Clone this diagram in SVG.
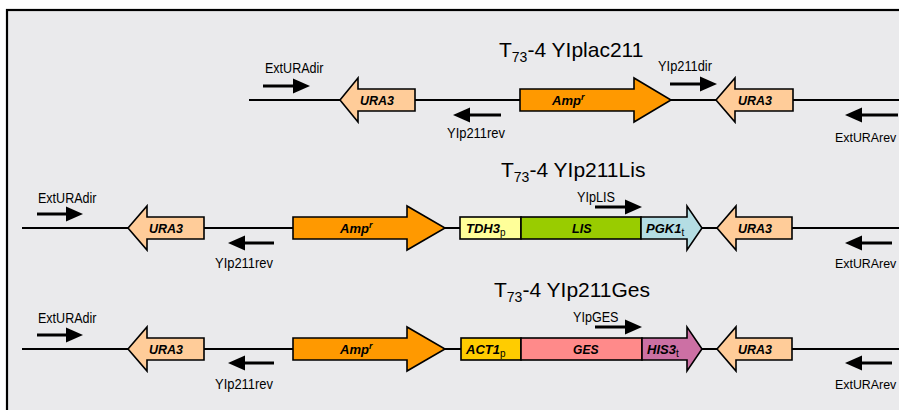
<svg xmlns="http://www.w3.org/2000/svg" width="899" height="410" viewBox="0 0 899 410">
<defs>
<style>
.bg{fill:#eaeaec;stroke:#000;stroke-width:2.2}
.bb{stroke:#000;stroke-width:2;fill:none}
.gene{stroke:#000;stroke-width:1.6;stroke-linejoin:miter}
.ura{fill:#ffcc99}
.amp{fill:#ff9900}
.tdh{fill:#ffff99}
.lis{fill:#99cc00}
.pgk{fill:#b4dde3}
.act{fill:#ffcc00}
.ges{fill:#ff8a8a}
.his{fill:#cc70a4}
.gl{font-family:"Liberation Sans",Arial,sans-serif;font-size:13.5px;font-weight:bold;font-style:italic;fill:#000}
.gm{font-family:"Liberation Sans",Arial,sans-serif;font-size:13px;font-weight:bold;font-style:italic;fill:#000}
.sub{font-weight:normal;font-style:normal;font-size:10px}
.pl{font-family:"Liberation Sans",Arial,sans-serif;font-size:14px;fill:#000}
.pr{font-family:"Liberation Sans",Arial,sans-serif;font-size:12.4px;fill:#000}
.title{font-family:"Liberation Sans",Arial,sans-serif;font-size:21px;fill:#000}
.pline{stroke:#000;stroke-width:3;fill:none}
</style>
</defs>
<rect x="0" y="0" width="899" height="410" fill="#ffffff"/>
<rect class="bg" x="7" y="10" width="900" height="410"/>

<g id="connectors">
<line class="bb" x1="249" y1="100" x2="899" y2="100"/>
<line class="bb" x1="22" y1="228" x2="899" y2="228"/>
<line class="bb" x1="22" y1="349" x2="899" y2="349"/>
</g>

<!-- Row 1 -->
<g id="title1"><text class="title" x="499" y="57">T<tspan font-size="14" dy="5">73</tspan><tspan dy="-5">-4 YIplac211</tspan></text></g>
<g id="r1-ura3-left"><polygon class="gene ura" points="415,89 358,89 358,78 340,100 358,122 358,111 415,111"/><text class="gl" x="360" y="105" textLength="34" lengthAdjust="spacingAndGlyphs">URA3</text></g>
<g id="r1-amp"><polygon class="gene amp" points="520,89 634,89 634,78 671,100 634,122 634,111 520,111"/><text class="gm" x="552" y="105">Amp<tspan font-size="9" dy="-5">r</tspan></text></g>
<g id="r1-ura3-right"><polygon class="gene ura" points="793,89 735,89 735,78 716,100 735,122 735,111 793,111"/><text class="gl" x="738" y="105" textLength="34" lengthAdjust="spacingAndGlyphs">URA3</text></g>
<g id="r1-exturadir"><text class="pl" x="265" y="72.5" textLength="58.5" lengthAdjust="spacingAndGlyphs">ExtURAdir</text><line class="pline" x1="263" y1="86" x2="296" y2="86"/><polygon points="293,78.5 310,86 293,93.5"/></g>
<g id="r1-yip211rev"><text class="pl" x="447" y="138" textLength="58" lengthAdjust="spacingAndGlyphs">YIp211rev</text><line class="pline" x1="501" y1="115" x2="467" y2="115"/><polygon points="470,107.5 453,115 470,122.5"/></g>
<g id="r1-yip211dir"><text class="pl" x="658" y="70.5" textLength="54" lengthAdjust="spacingAndGlyphs">YIp211dir</text><line class="pline" x1="670" y1="84" x2="703" y2="84"/><polygon points="700,76.5 717,84 700,91.5"/></g>
<g id="r1-exturarev"><text class="pr" x="835" y="141.5">ExtURArev</text><line class="pline" x1="898" y1="115" x2="859" y2="115"/><polygon points="862,107.5 845,115 862,122.5"/></g>

<!-- Row 2 -->
<g id="title2"><text class="title" x="501" y="177">T<tspan font-size="14" dy="5">73</tspan><tspan dy="-5">-4 YIp211Lis</tspan></text></g>
<g id="r2-ura3-left"><polygon class="gene ura" points="204,217 147,217 147,206 128,228 147,250 147,239 204,239"/><text class="gl" x="149" y="233" textLength="34" lengthAdjust="spacingAndGlyphs">URA3</text></g>
<g id="r2-amp"><polygon class="gene amp" points="293,217 407,217 407,206 445,228 407,250 407,239 293,239"/><text class="gm" x="340" y="233">Amp<tspan font-size="9" dy="-5">r</tspan></text></g>
<g id="r2-tdh3"><rect class="gene tdh" x="460" y="217" width="61" height="22"/><text class="gm" x="466" y="233">TDH3<tspan class="sub" dy="3">p</tspan></text></g>
<g id="r2-lis"><rect class="gene lis" x="521" y="217" width="120" height="22"/><text class="gl" x="572" y="233" textLength="19.5" lengthAdjust="spacingAndGlyphs">LIS</text></g>
<g id="r2-pgk1"><polygon class="gene pgk" points="641,217 687,217 687,206 702,228 687,250 687,239 641,239"/><text class="gm" x="646" y="233">PGK1<tspan class="sub" dy="3">t</tspan></text></g>
<g id="r2-ura3-right"><polygon class="gene ura" points="792,217 736,217 736,206 717,228 736,250 736,239 792,239"/><text class="gl" x="738" y="233" textLength="34" lengthAdjust="spacingAndGlyphs">URA3</text></g>
<g id="r2-exturadir"><text class="pl" x="38" y="203" textLength="58.5" lengthAdjust="spacingAndGlyphs">ExtURAdir</text><line class="pline" x1="37" y1="214" x2="69" y2="214"/><polygon points="66,206.5 83,214 66,221.5"/></g>
<g id="r2-yip211rev"><text class="pl" x="215" y="268" textLength="58" lengthAdjust="spacingAndGlyphs">YIp211rev</text><line class="pline" x1="274" y1="243" x2="242" y2="243"/><polygon points="245,235.5 228,243 245,250.5"/></g>
<g id="r2-yiplis"><text class="pl" x="577" y="202" textLength="38" lengthAdjust="spacingAndGlyphs">YIpLIS</text><line class="pline" x1="595" y1="207" x2="628" y2="207"/><polygon points="625,199.5 642,207 625,214.5"/></g>
<g id="r2-exturarev"><text class="pr" x="835" y="268">ExtURArev</text><line class="pline" x1="892" y1="243" x2="859" y2="243"/><polygon points="862,235.5 845,243 862,250.5"/></g>

<!-- Row 3 -->
<g id="title3"><text class="title" x="494" y="297">T<tspan font-size="14" dy="5">73</tspan><tspan dy="-5">-4 YIp211Ges</tspan></text></g>
<g id="r3-ura3-left"><polygon class="gene ura" points="204,338 147,338 147,327 128,349 147,371 147,360 204,360"/><text class="gl" x="149" y="354" textLength="34" lengthAdjust="spacingAndGlyphs">URA3</text></g>
<g id="r3-amp"><polygon class="gene amp" points="293,338 407,338 407,327 445,349 407,371 407,360 293,360"/><text class="gm" x="340" y="354">Amp<tspan font-size="9" dy="-5">r</tspan></text></g>
<g id="r3-act1"><rect class="gene act" x="461" y="338" width="60" height="22"/><text class="gm" x="466" y="354">ACT1<tspan class="sub" dy="3">p</tspan></text></g>
<g id="r3-ges"><rect class="gene ges" x="521" y="338" width="121" height="22"/><text class="gl" x="573" y="354" textLength="25.5" lengthAdjust="spacingAndGlyphs">GES</text></g>
<g id="r3-his3"><polygon class="gene his" points="642,338 687,338 687,327 702,349 687,371 687,360 642,360"/><text class="gm" x="647" y="354">HIS3<tspan class="sub" dy="3">t</tspan></text></g>
<g id="r3-ura3-right"><polygon class="gene ura" points="792,338 736,338 736,327 717,349 736,371 736,360 792,360"/><text class="gl" x="738" y="354" textLength="34" lengthAdjust="spacingAndGlyphs">URA3</text></g>
<g id="r3-exturadir"><text class="pl" x="38" y="323" textLength="58.5" lengthAdjust="spacingAndGlyphs">ExtURAdir</text><line class="pline" x1="37" y1="335" x2="69" y2="335"/><polygon points="66,327.5 83,335 66,342.5"/></g>
<g id="r3-yip211rev"><text class="pl" x="215" y="389" textLength="58" lengthAdjust="spacingAndGlyphs">YIp211rev</text><line class="pline" x1="274" y1="363" x2="242" y2="363"/><polygon points="245,355.5 228,363 245,370.5"/></g>
<g id="r3-yipges"><text class="pl" x="573" y="322" textLength="45.5" lengthAdjust="spacingAndGlyphs">YIpGES</text><line class="pline" x1="595" y1="327" x2="628" y2="327"/><polygon points="625,319.5 642,327 625,334.5"/></g>
<g id="r3-exturarev"><text class="pr" x="835" y="389">ExtURArev</text><line class="pline" x1="892" y1="363" x2="859" y2="363"/><polygon points="862,355.5 845,363 862,370.5"/></g>
</svg>
